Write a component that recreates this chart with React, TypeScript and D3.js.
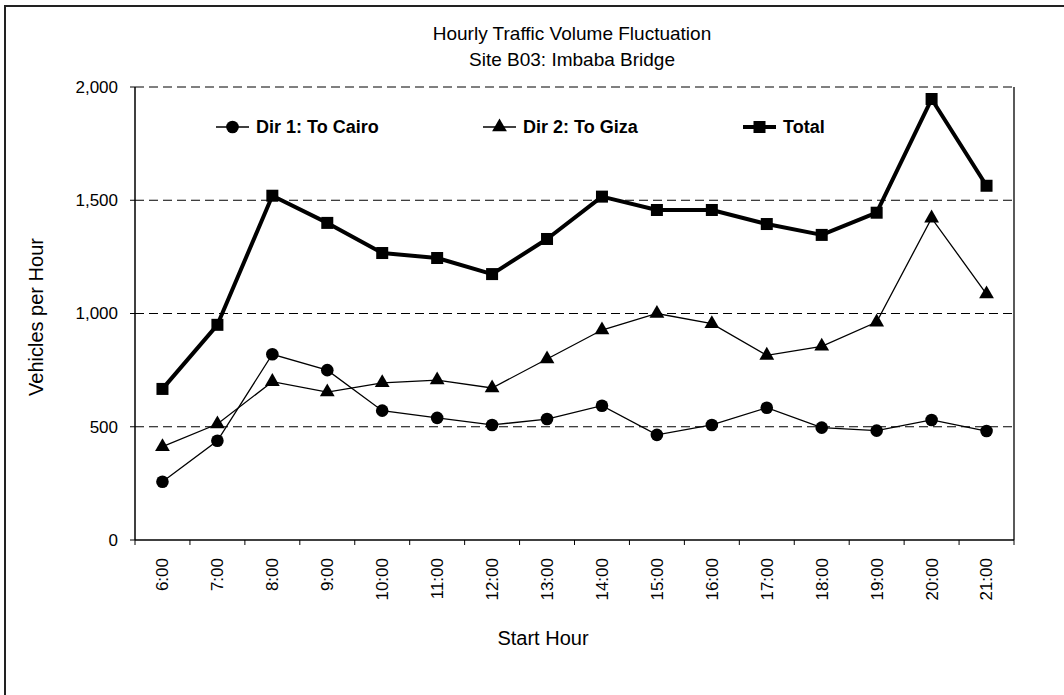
import React from "react";
import * as d3 from "d3";

const hours = ["6:00","7:00","8:00","9:00","10:00","11:00","12:00","13:00","14:00","15:00","16:00","17:00","18:00","19:00","20:00","21:00"];
const dir1ToCairo = [257, 438, 820, 750, 571, 539, 508, 534, 593, 464, 508, 584, 496, 483, 530, 481];
const dir2ToGiza = [412, 512, 699, 653, 694, 706, 671, 799, 927, 1000, 955, 815, 855, 962, 1421, 1086];
const total = [667, 950, 1520, 1400, 1267, 1245, 1174, 1329, 1516, 1457, 1457, 1395, 1347, 1445, 1947, 1564];
const yTicks = [0, 500, 1000, 1500, 2000];
const gridValues = [500, 1000, 1500, 2000];

const W = 1064, H = 695;
const left = 135, right = 1014, top = 87, bottom = 540;
const FONT = "Arial, 'Liberation Sans', sans-serif";

export default function App() {
  const x = d3.scaleBand<string>().domain(hours).range([left, right]);
  const y = d3.scaleLinear().domain([0, 2000]).range([bottom, top]);
  const cx = (h: string) => (x(h) as number) + x.bandwidth() / 2;
  const line = d3.line<number>().x((_, i) => cx(hours[i])).y((d) => y(d));
  const fmt = d3.format(",");
  const tri = d3.symbol().type(d3.symbolTriangle).size(95)();
  const boundaries = hours.map((h) => x(h) as number).concat([right]);

  const legendItems = [
    { label: "Dir 1: To Cairo", x0: 216, kind: "circle", w: 1.3 },
    { label: "Dir 2: To Giza", x0: 483, kind: "tri", w: 1.3 },
    { label: "Total", x0: 743, kind: "square", w: 4 },
  ];
  const ly = 127;

  const marker = (kind: string, px: number, py: number, key: string | number) => {
    if (kind === "circle") return <circle key={key} cx={px} cy={py} r={6.3} fill="#000" />;
    if (kind === "tri") return <path key={key} d={tri as string} transform={`translate(${px},${py})`} fill="#000" />;
    return <rect key={key} x={px - 6} y={py - 6} width={12} height={12} fill="#000" />;
  };

  return (
    <svg width={W} height={H} style={{ position: "absolute", left: 0, top: 0, background: "#fff" }} fontFamily={FONT}>
      <rect x={0} y={0} width={W} height={H} fill="#fff" />
      <path d={`M5,${H + 5} V6 H${W + 5}`} fill="none" stroke="#222" strokeWidth={2} />

      <text x={572} y={40} textAnchor="middle" fontSize={19}>Hourly Traffic Volume Fluctuation</text>
      <text x={572} y={66} textAnchor="middle" fontSize={19}>Site B03: Imbaba Bridge</text>

      {gridValues.map((v) => (
        <line key={v} x1={left} x2={right} y1={y(v)} y2={y(v)} stroke="#000" strokeWidth={1} strokeDasharray="9,5" />
      ))}
      <line x1={right} x2={right} y1={top} y2={bottom} stroke="#000" strokeWidth={1.3} />
      <line x1={left} x2={left} y1={top} y2={bottom} stroke="#000" strokeWidth={1.5} />
      <line x1={left} x2={right} y1={bottom} y2={bottom} stroke="#000" strokeWidth={1.5} />

      {yTicks.map((v) => (
        <g key={v}>
          <line x1={left - 5} x2={left} y1={y(v)} y2={y(v)} stroke="#000" />
          <text x={118} y={y(v)} dy="0.35em" textAnchor="end" fontSize={17}>{fmt(v)}</text>
        </g>
      ))}
      {boundaries.map((b, i) => (
        <line key={i} x1={b} x2={b} y1={bottom} y2={bottom + 5} stroke="#000" />
      ))}
      {hours.map((h) => (
        <text key={h} transform={`translate(${cx(h)},558) rotate(-90)`} textAnchor="end" dy="0.35em" fontSize={17}>{h}</text>
      ))}

      <text transform={`translate(36,317) rotate(-90)`} textAnchor="middle" dy="0.35em" fontSize={20}>Vehicles per Hour</text>
      <text x={543} y={638} textAnchor="middle" dy="0.35em" fontSize={20}>Start Hour</text>

      <path d={line(dir1ToCairo) as string} fill="none" stroke="#000" strokeWidth={1.3} />
      <path d={line(dir2ToGiza) as string} fill="none" stroke="#000" strokeWidth={1.3} />
      <path d={line(total) as string} fill="none" stroke="#000" strokeWidth={4} strokeLinejoin="round" />
      {dir1ToCairo.map((v, i) => marker("circle", cx(hours[i]), y(v), "c" + i))}
      {dir2ToGiza.map((v, i) => marker("tri", cx(hours[i]), y(v), "t" + i))}
      {total.map((v, i) => marker("square", cx(hours[i]), y(v), "s" + i))}

      {legendItems.map((it) => (
        <g key={it.label}>
          <line x1={it.x0} x2={it.x0 + 33} y1={ly} y2={ly} stroke="#000" strokeWidth={it.w} />
          {marker(it.kind, it.x0 + 16.5, ly, "m")}
          <text x={it.x0 + 40} y={ly} dy="0.35em" fontSize={18} fontWeight="bold">{it.label}</text>
        </g>
      ))}
    </svg>
  );
}
